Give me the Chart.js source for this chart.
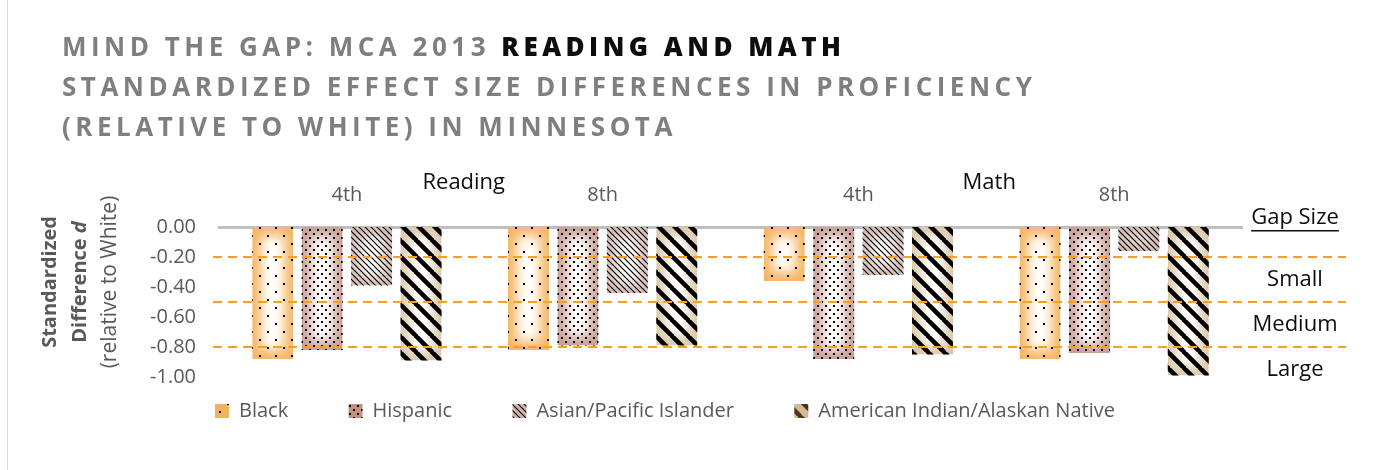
<!DOCTYPE html>
<html>
<head>
<meta charset="utf-8">
<script src="https://cdn.jsdelivr.net/npm/chart.js@4.4.1/dist/chart.umd.min.js"></script>
<style>
  body { margin: 0; background: #fff; }
  #wrap { position: relative; width: 1380px; height: 470px; overflow: hidden; }
  #frame { position: absolute; left: 7px; top: 0; width: 1px; height: 470px; background: #d9d9d9; }
  #title { position: absolute; left: 62px; top: 26px; font: bold 26px "Open Sans", sans-serif; letter-spacing: 4.5px; line-height: 40px; color: #7f7f7f; white-space: nowrap; }
  #title b { color: #0d0d0d; }
  canvas { position: absolute; left: 0; top: 0; }
</style>
</head>
<body>
<div id="wrap">
  <div id="frame"></div>
  <canvas id="gapChart" width="1380" height="470"></canvas>
  <div id="title">MIND THE GAP: MCA 2013 <b>READING AND MATH</b><br>STANDARDIZED EFFECT SIZE DIFFERENCES IN PROFICIENCY<br>(RELATIVE TO WHITE) IN MINNESOTA</div>
</div>
<script>
// chart data
const grades = ['4th', '8th', '4th', '8th'];
const subjects = ['Reading', 'Math'];
const groups = ['Black', 'Hispanic', 'Asian/Pacific Islander', 'American Indian/Alaskan Native'];
const black = [-0.88, -0.82, -0.36, -0.88];
const hispanic = [-0.82, -0.79, -0.88, -0.84];
const asianPI = [-0.39, -0.44, -0.32, -0.16];
const amIndian = [-0.89, -0.79, -0.85, -0.99];
const yTicks = [0, -0.2, -0.4, -0.6, -0.8, -1.0];
const gapLines = [-0.2, -0.5, -0.8];
const gapNames = ['Small', 'Medium', 'Large'];

// look of each series: hatch mark, glow colour at the bar edges, legend key colour
const seriesStyle = [
  { mark: 'sparse', size: 16, edge: '#f5b765', key: '#f2b35e' },
  { mark: 'dense', size: 8, edge: '#c99f94', key: '#c3917f' },
  { mark: 'thin', size: 6, edge: '#d5bcb5', key: '#d0b7ae' },
  { mark: 'thick', size: 16, edge: '#dbc8aa', key: '#d4b993' }
];

Chart.defaults.font.family = '"Open Sans", sans-serif';

function diag(x, s, w) {
  x.lineWidth = w;
  x.beginPath();
  for (const o of [-s, 0, s]) {
    x.moveTo(o - 1, -1);
    x.lineTo(o + s + 1, s + 1);
  }
  x.stroke();
}

const marks = {
  sparse: x => { x.fillRect(3, 3, 2, 2); x.fillRect(11, 11, 2, 2); },
  dense: x => { x.fillRect(1, 1, 2, 2); x.fillRect(5, 5, 2, 2); },
  thin: (x, s) => diag(x, s, 1.2),
  thick: (x, s) => diag(x, s, 4.5)
};

function tile(style, bg) {
  const c = document.createElement('canvas');
  c.width = c.height = style.size;
  const x = c.getContext('2d');
  if (bg) { x.fillStyle = bg; x.fillRect(0, 0, style.size, style.size); }
  x.fillStyle = x.strokeStyle = bg && style.mark === 'thick' ? '#4a3520' : '#000';
  marks[style.mark](x, style.size);
  return c;
}

const ctx = document.getElementById('gapChart').getContext('2d');
const seriesData = [black, hispanic, asianPI, amIndian];
const barFills = seriesStyle.map(s => ctx.createPattern(tile(s), 'repeat'));
const legendKeys = seriesStyle.map(s => ctx.createPattern(tile(s, s.key), 'repeat'));

// soft colour at the edges of every bar, white toward the middle
const glowPlugin = {
  id: 'glow',
  beforeDatasetsDraw(chart) {
    const c = chart.ctx;
    chart.data.datasets.forEach((ds, i) => {
      chart.getDatasetMeta(i).data.forEach(bar => {
        const { x, y, base, width } = bar.getProps(['x', 'y', 'base', 'width'], true);
        const l = x - width / 2, t = Math.min(y, base), h = Math.abs(base - y);
        const inset = 9;
        c.save();
        c.beginPath();
        c.rect(l, t, width, h);
        c.clip();
        c.fillStyle = seriesStyle[i].edge;
        c.fillRect(l, t, width, h);
        c.filter = 'blur(6px)';
        c.fillStyle = '#fff';
        c.fillRect(l + inset, t + inset, Math.max(width - 2 * inset, 0), Math.max(h - 2 * inset, 0));
        c.restore();
      });
    });
  }
};

// gap size thresholds, their names, subject headers and the y axis title
const notesPlugin = {
  id: 'notes',
  afterLayout(chart) {
    // legend row starts just left of the plot, like the original
    chart.legend.left = chart.chartArea.left - 28;
  },
  afterDatasetsDraw(chart) {
    const { ctx: c, chartArea: a, scales: { y } } = chart;
    c.save();
    c.strokeStyle = '#f4a124';
    c.lineWidth = 2;
    c.setLineDash([9, 6]);
    gapLines.forEach(v => {
      const py = Math.round(y.getPixelForValue(v));
      c.beginPath();
      c.moveTo(a.left - 6, py);
      c.lineTo(a.right + 104, py);
      c.stroke();
    });
    c.restore();
  },
  afterDraw(chart) {
    const { ctx: c, chartArea: a, scales: { x, y } } = chart;
    c.save();
    c.textAlign = 'center';
    c.textBaseline = 'middle';
    c.fillStyle = '#0d0d0d';
    c.font = '22px "Open Sans"';

    // Reading / Math
    const shift = [-11, 3];
    subjects.forEach((s, i) => {
      const mid = (x.getPixelForValue(2 * i) + x.getPixelForValue(2 * i + 1)) / 2;
      c.fillText(s, mid + shift[i], a.top - 44);
    });

    // right hand gap labels
    const gx = a.right + 53;
    const gy = y.getPixelForValue(0) - 9;
    c.fillText('Gap Size', gx, gy);
    const gw = c.measureText('Gap Size').width;
    c.fillRect(gx - gw / 2, gy + 12, gw, 1.5);
    gapNames.forEach((n, i) => {
      const lower = i + 1 < gapLines.length ? gapLines[i + 1] : gapLines[i] - 0.3;
      c.fillText(n, gx, y.getPixelForValue((gapLines[i] + lower) / 2));
    });

    // y axis title
    c.fillStyle = '#595959';
    c.translate(a.left - 169, (a.top + a.bottom) / 2 - 20);
    c.rotate(-Math.PI / 2);
    c.font = 'bold 20px "Open Sans"';
    c.fillText('Standardized', 0, 0);
    const p1 = 'Difference ', p2 = 'd';
    const w1 = c.measureText(p1).width;
    c.font = 'italic bold 20px "Open Sans"';
    const w2 = c.measureText(p2).width;
    c.textAlign = 'left';
    c.font = 'bold 20px "Open Sans"';
    c.fillText(p1, -(w1 + w2) / 2, 30);
    c.font = 'italic bold 20px "Open Sans"';
    c.fillText(p2, -(w1 + w2) / 2 + w1, 30);
    c.textAlign = 'center';
    c.font = '21px "Open Sans"';
    c.fillText('(relative to White)', 0, 60);
    c.restore();
  }
};

const chart = new Chart(ctx, {
  type: 'bar',
  data: {
    labels: grades,
    datasets: groups.map((g, i) => ({
      label: g,
      data: seriesData[i],
      backgroundColor: barFills[i],
      borderWidth: 0,
      categoryPercentage: 0.773,
      barPercentage: 0.83
    }))
  },
  options: {
    responsive: false,
    animation: false,
    layout: { padding: { left: 140, right: 138, top: 160, bottom: 39 } },
    scales: {
      x: {
        position: 'top',
        z: 1,
        grid: { display: false, drawTicks: false },
        border: { color: '#bfbfbf', width: 3 },
        ticks: { color: '#595959', font: { size: 20 }, padding: 20 },
        afterFit: s => { s.height = 67; }
      },
      y: {
        min: -1,
        max: 0,
        grid: { display: false, drawTicks: false },
        border: { display: false },
        ticks: { color: '#595959', font: { size: 20 }, padding: 23, callback: v => v.toFixed(2) },
        afterBuildTicks: s => { s.ticks = yTicks.map(v => ({ value: v })); },
        afterFit: s => { s.width = 79; }
      }
    },
    plugins: {
      legend: {
        position: 'bottom',
        align: 'start',
        labels: {
          boxWidth: 14,
          boxHeight: 14,
          padding: 24,
          color: '#595959',
          font: { size: 20 },
          generateLabels: c => c.data.datasets.map((ds, i) => ({
            text: i < groups.length - 1 ? ds.label + '       ' : ds.label,
            fillStyle: legendKeys[i],
            strokeStyle: 'transparent',
            lineWidth: 0,
            fontColor: '#595959',
            hidden: false,
            datasetIndex: i
          }))
        }
      },
      tooltip: { enabled: false }
    }
  },
  plugins: [glowPlugin, notesPlugin]
});
</script>
</body>
</html>
